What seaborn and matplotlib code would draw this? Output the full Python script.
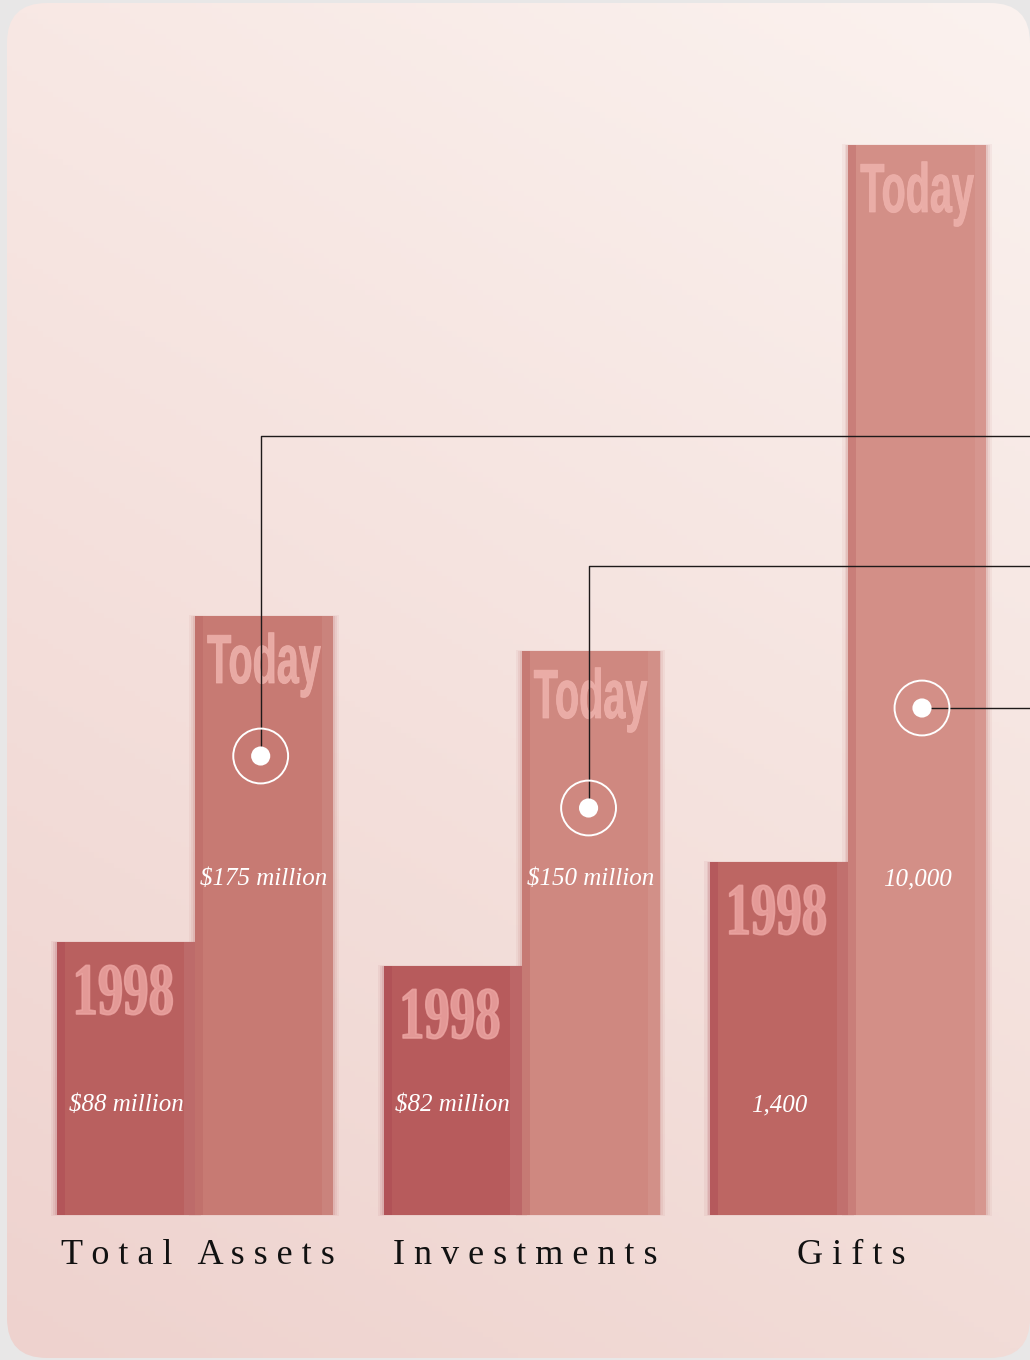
import numpy as np
import pandas as pd
import matplotlib
matplotlib.use("Agg")
import matplotlib.pyplot as plt
from matplotlib.patches import FancyBboxPatch, Rectangle
from matplotlib.transforms import Affine2D
from matplotlib import patheffects
import seaborn as sns

# -------------------------------------------------------
# Data
# -------------------------------------------------------

categories = ["Total Assets", "Investments", "Gifts"]
periods = ["1998", "Today"]

# bar heights as drawn in the picture (not to scale with the values)
height_1998 = [273, 249, 353]
height_today = [599, 564, 1070]

value_1998 = ["$88 million", "$82 million", "1,400"]
value_today = ["$175 million", "$150 million", "10,000"]

category_labels = [
    "T o t a l   A s s e t s",
    "I n v e s t m e n t s",
    "G i f t s",
]

df = pd.DataFrame({
    "category": categories * 2,
    "period": ["1998"] * 3 + ["Today"] * 3,
    "height": height_1998 + height_today,
})

# -------------------------------------------------------
# Style
# -------------------------------------------------------

sns.set_theme(style="white")
plt.rcParams["font.family"] = ["Liberation Serif", "DejaVu Serif"]

colors_1998 = ["#b9605f", "#b75b5c", "#bd6663"]
colors_today = ["#c77a73", "#cf8880", "#d38f87"]
edge_1998 = "#a8434f"
edge_today = "#b8615f"


class Squeeze(patheffects.AbstractPathEffect):
    # narrows the glyphs around the text centre (condensed look),
    # with an optional stroke to make them heavier
    def __init__(self, sx, lw=0.0):
        super().__init__()
        self.sx = sx
        self.lw = lw

    def draw_path(self, renderer, gc, tpath, affine, rgbFace=None):
        ext = tpath.get_extents()
        cx = (ext.x0 + ext.x1) / 2
        t = Affine2D().translate(-cx, 0).scale(self.sx, 1).translate(cx, 0) + affine
        gc0 = renderer.new_gc()
        gc0.copy_properties(gc)
        if self.lw > 0:
            gc0.set_linewidth(self.lw)
            gc0.set_foreground(rgbFace)
        renderer.draw_path(gc0, tpath, t, rgbFace)
        gc0.restore()


fig = plt.figure(figsize=(10.3, 13.6), dpi=100)

# -------------------------------------------------------
# Background panel (rounded, soft pink gradient)
# -------------------------------------------------------

bg = fig.add_axes([0, 0, 1, 1], zorder=0)
bg.set_xlim(0, 1030)
bg.set_ylim(1360, 0)
bg.axis("off")
bg.add_patch(Rectangle((0, 0), 1030, 1360, color="#e8e7e7", zorder=0))

tl = np.array(matplotlib.colors.to_rgb("#f8e8e4"))
tr = np.array(matplotlib.colors.to_rgb("#fbf2ef"))
bl = np.array(matplotlib.colors.to_rgb("#eed2ce"))
br = np.array(matplotlib.colors.to_rgb("#f2dcd7"))
u = np.linspace(0, 1, 200)[None, :, None]
v = np.linspace(0, 1, 260)[:, None, None]
grad = (1 - v) * ((1 - u) * tl + u * tr) + v * ((1 - u) * bl + u * br)

panel = FancyBboxPatch((7, 3), 1023, 1355,
                       boxstyle="round,pad=0,rounding_size=40",
                       facecolor="none", edgecolor="none", zorder=1)
bg.add_patch(panel)
im = bg.imshow(grad, extent=(7, 1030, 1358, 3), aspect="auto", zorder=1)
im.set_clip_path(panel)

# -------------------------------------------------------
# Bars
# -------------------------------------------------------

ax = fig.add_axes([0, 0, 1, 1], zorder=2)
ax.patch.set_alpha(0)

sns.barplot(
    data=df,
    x="category",
    y="height",
    hue="period",
    hue_order=periods,
    order=categories,
    width=0.845,
    palette=["#b9605f", "#c77a73"],
    legend=False,
    ax=ax,
)

ax.set_xlim(-0.597, 2.557)
ax.set_ylim(-145, 1215)
ax.axis("off")

bars_1998 = list(ax.containers[0])
bars_today = list(ax.containers[1])


def soften(bar, color, edge):
    x, w, h = bar.get_x(), bar.get_width(), bar.get_height()
    bar.set_facecolor(color)
    bar.set_edgecolor("none")
    bar.set_zorder(3)
    # blurred halo around the bar
    for k, a in zip([0.018, 0.011, 0.005], [0.07, 0.10, 0.14]):
        ax.add_patch(Rectangle((x - k, -k * 30), w + 2 * k, h + k * 60,
                               facecolor=edge, edgecolor="none",
                               alpha=a, zorder=2))
    # darker left edge of each bar
    ax.add_patch(Rectangle((x, 0), w * 0.06, h, facecolor=edge,
                           edgecolor="none", alpha=0.35, zorder=3.1))
    ax.add_patch(Rectangle((x + w * 0.92, 0), w * 0.08, h, facecolor="white",
                           edgecolor="none", alpha=0.07, zorder=3.1))


for i in range(3):
    soften(bars_1998[i], colors_1998[i], edge_1998)
    soften(bars_today[i], colors_today[i], edge_today)

# -------------------------------------------------------
# Labels on the bars
# -------------------------------------------------------

for i in range(3):
    b0 = bars_1998[i]
    b1 = bars_today[i]
    c0 = b0.get_x() + b0.get_width() / 2
    c1 = b1.get_x() + b1.get_width() / 2

    ax.text(c0 - 0.01, b0.get_height() - 72, "1998",
            family=["Liberation Serif", "DejaVu Serif"],
            weight="bold", fontsize=53, color="#eba4a1", alpha=0.85,
            ha="center", va="baseline", zorder=5,
            path_effects=[Squeeze(0.69, lw=1.2)])
    ax.text(c1, b1.get_height() - 67, "Today",
            family=["Liberation Sans", "DejaVu Sans"],
            weight="bold", fontsize=50, color="#efb3ad", alpha=0.85,
            ha="center", va="baseline", zorder=5,
            path_effects=[Squeeze(0.57, lw=0.6)])

    ax.text(c0, 110, value_1998[i], style="italic", fontsize=18,
            color="white", ha="center", va="center", zorder=5)
    ax.text(c1, 336, value_today[i], style="italic", fontsize=18,
            color="white", ha="center", va="center", zorder=5)

    ax.text(i + 0.01, -40, category_labels[i], fontsize=26,
            color="#111111", ha="center", va="center", zorder=5)

# -------------------------------------------------------
# Callout markers and lines
# -------------------------------------------------------

marker_y = [459, 407, 507]
elbow_y = [779, 649, 507]
marker_dx = [-0.01, -0.006, 0.015]

for i in range(3):
    b1 = bars_today[i]
    cx = b1.get_x() + b1.get_width() / 2 + marker_dx[i]
    ax.plot([cx, cx, 2.6], [marker_y[i], elbow_y[i], elbow_y[i]],
            color="#1e1a1a", lw=1.0, zorder=6, solid_capstyle="butt")
    ax.scatter([cx], [marker_y[i]], s=1560, facecolor="none",
               edgecolor="white", linewidth=1.4, zorder=7)
    ax.scatter([cx], [marker_y[i]], s=190, color="white",
               edgecolor="none", zorder=7)

plt.savefig("out.png", dpi=100)
plt.close()
